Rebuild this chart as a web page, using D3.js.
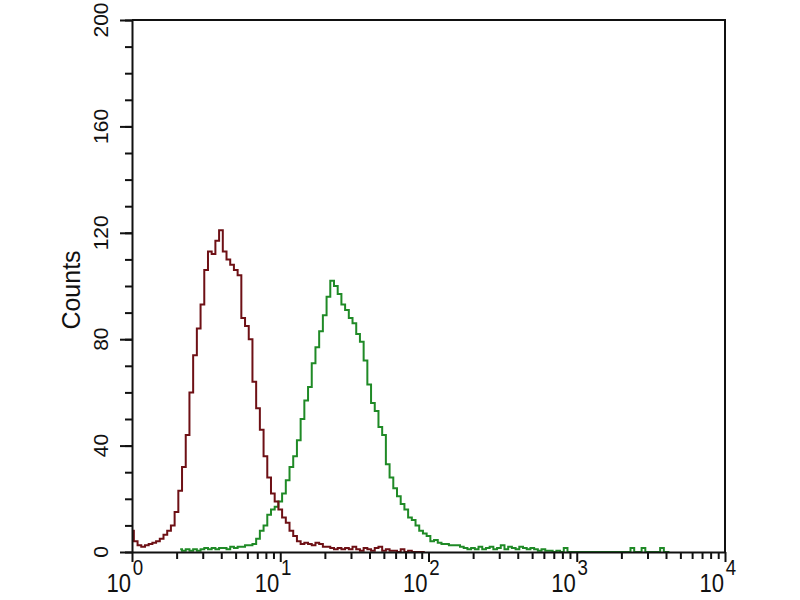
<!DOCTYPE html>
<html>
<head>
<meta charset="utf-8">
<script src="https://cdn.jsdelivr.net/npm/d3@7"></script>
<style>
  body { margin: 0; background: #fff; }
  svg text { font-family: "Liberation Sans", Arial, sans-serif; fill: #111; }
</style>
</head>
<body>
<svg id="chart" width="800" height="600"></svg>
<script>
// histogram channels: 40 channels per decade, channel c sits at 10^(c/40)
var channelsPerDecade = 40;

// isotype control (dark red), channels 0..79
var redStart = 0;
var redCounts = [8,4,2.5,2,2.5,3,3.5,4,5,6.5,8,10,15,23,32,44,60,74,84,93,
    106,113,112,117,121,113,110,108,106,104,88,85,80,64,54,46,36,28,22,19,
    16,13,11,8,6,4,3,3.5,3,2.5,3.5,3,2,2,1.5,1,1.5,1,1.5,1,
    2,1,0.5,1.5,1,0.5,1.5,2,0.5,1,0.5,0.5,0,1,0,0.5,0,0,0,0];

// antibody stained (green), channels 13..145
var greenStart = 13;
var greenCounts = [1,0.5,1,0.5,1,0.5,1,1.5,1,1.5,1,1.5,1.5,1,2,1.5,2,2,2.5,2.5,3,
    5,8,10,14,16,17,19,22,27,32,36,42,50,57,62,71,77,83,89,96,102,100,97,93,91,
    88,86,82,79,72,63,56,53,47,44,33,28,24,21,18,16,13,12,10,8,7,6,4,4.5,3.5,
    3,3,2.5,2.5,2.5,2,1.5,1,1.5,
    1,2,1,1.5,2,1,1.5,2.5,1,2,1.5,1,2,1.5,1,1.5,1,0.5,1,0.5,0.5,0,0.5,0,1.5,0,
    0,0,0,0,0,0,0,0,0,0,0,0,0,0,0,0,1.5,0,0,1.5,0,0,0,0,1.5,0,0];

var yTicks = [0, 40, 80, 120, 160, 200];
var xDecades = [0, 1, 2, 3, 4];
var yLabel = "Counts";

var svg = d3.select("#chart");
var plotLeft = 132, plotRight = 725, plotTop = 20, plotBottom = 552;

var x = d3.scaleLog().domain([1, 1e4]).range([plotLeft, plotRight]);
var y = d3.scaleLinear().domain([0, 200]).range([plotBottom, plotTop]);

function toPoints(start, counts) {
    return counts.map(function(v, i) {
        return [Math.pow(10, (start + i) / channelsPerDecade), v];
    });
}

svg.append("clipPath").attr("id", "plotClip")
    .append("rect")
    .attr("x", plotLeft).attr("y", plotTop - 2)
    .attr("width", plotRight - plotLeft).attr("height", plotBottom - plotTop + 2);

var line = d3.line()
    .x(function(d) { return x(d[0]); })
    .y(function(d) { return y(d[1]); })
    .curve(d3.curveStep);

var plot = svg.append("g").attr("clip-path", "url(#plotClip)");

plot.append("path")
    .datum(toPoints(greenStart, greenCounts))
    .attr("d", line)
    .attr("fill", "none")
    .attr("stroke", "#1f8a26")
    .attr("stroke-width", 2);

plot.append("path")
    .datum(toPoints(redStart, redCounts))
    .attr("d", line)
    .attr("fill", "none")
    .attr("stroke", "#6e1015")
    .attr("stroke-width", 2);

// frame
svg.append("path")
    .attr("d", "M" + plotLeft + "," + plotTop + "H" + plotRight + "V" + plotBottom)
    .attr("fill", "none")
    .attr("stroke", "#111")
    .attr("stroke-width", 2);

// x axis (log)
var xMinor = [];
xDecades.slice(0, -1).forEach(function(k) {
    for (var m = 2; m <= 9; m++) xMinor.push(m * Math.pow(10, k));
});

var xAxis = svg.append("g")
    .attr("transform", "translate(0," + plotBottom + ")")
    .call(d3.axisBottom(x)
        .tickValues(xMinor)
        .tickSize(7)
        .tickSizeOuter(0)
        .tickFormat(""));
xAxis.selectAll("line").attr("stroke", "#111").attr("stroke-width", 2);
xAxis.select(".domain").attr("stroke", "#111").attr("stroke-width", 2);

svg.append("g")
    .attr("transform", "translate(0," + plotBottom + ")")
    .call(d3.axisBottom(x)
        .tickValues(xDecades.map(function(k) { return Math.pow(10, k); }))
        .tickSize(10)
        .tickFormat(""))
    .call(function(g) {
        g.select(".domain").remove();
        g.selectAll("line").attr("stroke", "#111").attr("stroke-width", 2);
    });

// x tick labels 10^k, drawn a bit condensed like the scan
xDecades.forEach(function(k) {
    var g = svg.append("g")
        .attr("transform", "translate(" + (x(Math.pow(10, k)) - 1) + ",0) scale(0.85,1)");
    g.append("text")
        .attr("y", 592)
        .attr("text-anchor", "end")
        .style("font-size", "26px")
        .text("10");
    g.append("text")
        .attr("x", 2)
        .attr("y", 575)
        .style("font-size", "22px")
        .text(k);
});

// y axis
var yAxis = svg.append("g")
    .attr("transform", "translate(" + plotLeft + ",0)")
    .call(d3.axisLeft(y)
        .tickValues(d3.range(0, 201, 10))
        .tickSize(7)
        .tickSizeOuter(0)
        .tickFormat(""));
yAxis.selectAll("line").attr("stroke", "#111").attr("stroke-width", 2);
yAxis.select(".domain").attr("stroke", "#111").attr("stroke-width", 2);

svg.append("g")
    .attr("transform", "translate(" + plotLeft + ",0)")
    .call(d3.axisLeft(y).tickValues(yTicks).tickSize(12).tickFormat(""))
    .call(function(g) {
        g.select(".domain").remove();
        g.selectAll("line").attr("stroke", "#111").attr("stroke-width", 2);
    });

svg.append("g").selectAll("text")
    .data(yTicks)
    .join("text")
    .attr("transform", function(d) { return "translate(108," + y(d) + ") rotate(-90)"; })
    .attr("text-anchor", "middle")
    .style("font-size", "21px")
    .text(function(d) { return d; });

svg.append("text")
    .attr("transform", "translate(80,290) rotate(-90)")
    .attr("text-anchor", "middle")
    .style("font-size", "25px")
    .text(yLabel);
</script>
</body>
</html>
